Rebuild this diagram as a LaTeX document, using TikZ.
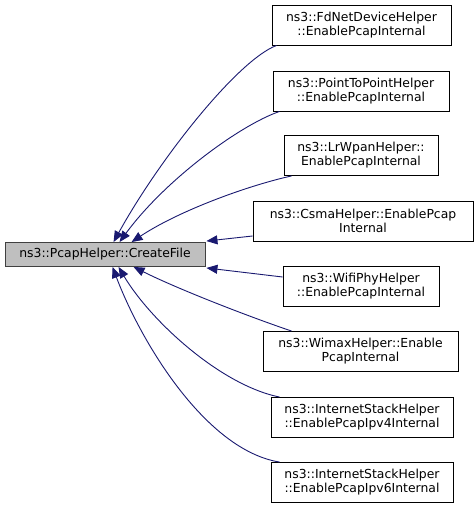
\documentclass[tikz,border=0pt]{standalone}
\usepackage{fontspec}
\setmainfont{DejaVu Sans}
\usetikzlibrary{arrows.meta}
\definecolor{edgeblue}{HTML}{191970}
\definecolor{mainfill}{HTML}{BFBFBF}
\definecolor{boxline}{HTML}{000000}
\tikzset{
  box/.style={draw=boxline, line width=0.9pt, fill=white, rectangle, inner sep=0pt,
    align=center, font=\fontsize{12.4}{14}\selectfont, minimum height=40pt},
  mainbox/.style={box, fill=mainfill, draw=black!75, minimum height=24pt},
  edge/.style={draw=edgeblue, line width=0.9pt, -{Triangle[length=11pt,width=9pt]}},
}
\begin{document}
\begin{tikzpicture}[x=1pt,y=-1pt]
\useasboundingbox (0,0) rectangle (475,508);
\node[mainbox, minimum width=200pt] (main) at (105,254.5) {ns3::PcapHelper::CreateFile};
\node[box, minimum width=179pt] (fd) at (361.5,25) {ns3::FdNetDeviceHelper\\::EnablePcapInternal};
\node[box, minimum width=176pt] (ptp) at (361,91) {ns3::PointToPointHelper\\::EnablePcapInternal};
\node[box, minimum width=154pt] (lr) at (361,155.5) {ns3::LrWpanHelper::\\EnablePcapInternal};
\node[box, minimum width=220pt] (csma) at (363,221) {ns3::CsmaHelper::EnablePcap\\Internal};
\node[box, minimum width=156pt] (wifi) at (361,286.5) {ns3::WifiPhyHelper\\::EnablePcapInternal};
\node[box, minimum width=195pt] (wimax) at (360.5,351.5) {ns3::WimaxHelper::Enable\\PcapInternal};
\node[box, minimum width=182pt] (v4) at (362,417.5) {ns3::InternetStackHelper\\::EnablePcapIpv4Internal};
\node[box, minimum width=182pt] (v6) at (362,482.5) {ns3::InternetStackHelper\\::EnablePcapIpv6Internal};

\draw[edge] ([xshift=5pt]fd.south west) .. controls (238,60) and (160,158) .. ([xshift=109pt]main.north west);
\draw[edge] ([xshift=7pt]ptp.south west) .. controls (240,125) and (165,180) .. ([xshift=115pt]main.north west);
\draw[edge] ([xshift=8pt]lr.south west) .. controls (250,185) and (180,210) .. ([xshift=127pt]main.north west);
\draw[edge] ([yshift=-15pt]csma.west) -- ([xshift=1pt,yshift=1pt]main.north east);
\draw[edge] ([yshift=9.5pt]wifi.west) -- ([xshift=1pt,yshift=-1pt]main.south east);
\draw[edge] ([xshift=29pt]wimax.north west) .. controls (250,317) and (180,290) .. ([xshift=129pt]main.south west);
\draw[edge] ([xshift=9pt]v4.north west) .. controls (220,385) and (150,320) .. ([xshift=114pt]main.south west);
\draw[edge] ([xshift=9pt]v6.north west) .. controls (205,450) and (140,340) .. ([xshift=108pt]main.south west);
\end{tikzpicture}
\end{document}
